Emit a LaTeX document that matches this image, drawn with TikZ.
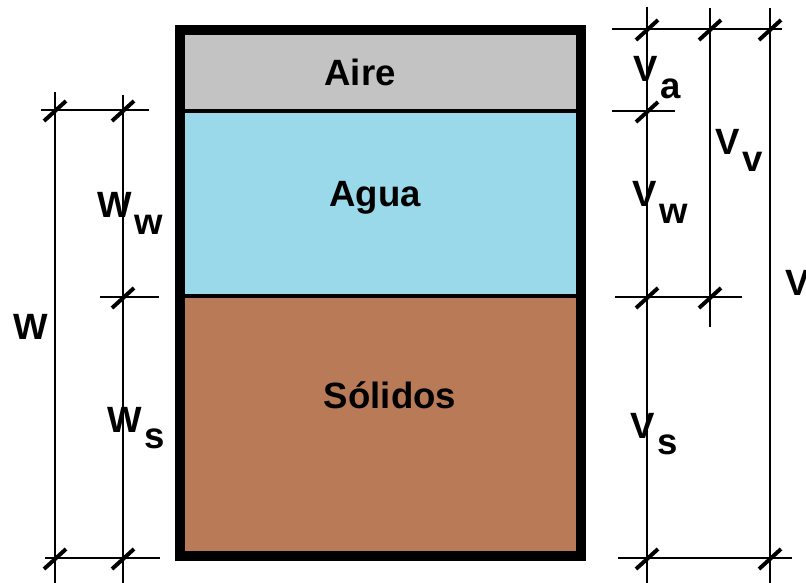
\documentclass[tikz,border=0pt]{standalone}
\usepackage{fontspec}
\setmainfont{Liberation Sans}

\definecolor{aire}{RGB}{195,195,195}
\definecolor{agua}{RGB}{153,217,234}
\definecolor{solido}{RGB}{185,122,87}

\newcommand{\idx}[1]{\kern2pt\raisebox{-12pt}{#1}}

\tikzset{
  fase/.style={font=\fontsize{26}{26}\bfseries\selectfont, inner sep=0pt},
  cota/.style={font=\fontsize{26}{26}\bfseries\selectfont, inner sep=0pt, anchor=base west},
  dim/.style={line width=1pt},
  slash/.pic={\draw[line width=2.8pt] (-11,11) -- (11,-9);}
}

\begin{document}
\begin{tikzpicture}[x=0.025cm, y=-0.025cm]
  \useasboundingbox (0,0) rectangle (806,583);

  % muestra
  \fill[aire] (180,30) rectangle (581,111);
  \fill[agua] (180,111) rectangle (581,296);
  \fill[solido] (180,296) rectangle (581,556);
  \draw[line width=3pt] (180,111) -- (581,111);
  \draw[line width=3pt] (180,296) -- (581,296);
  \draw[line width=7pt] (180,30) rectangle (581,556);

  \node[fase, anchor=base] (aire) at (360,86) {Aire};
  \node[fase, anchor=base] (agua) at (375,207) {Agua};
  \node[fase, anchor=base] (solidos) at (390,408) {Sólidos};

  % cotas de pesos
  \coordinate (w0) at (55,92);
  \coordinate (w1) at (55,583);
  \coordinate (ww0) at (123,95);
  \coordinate (ww1) at (123,583);
  \coordinate (e0) at (41,110);
  \coordinate (e1) at (149,110);
  \coordinate (e2) at (100,297);
  \coordinate (e3) at (159,297);
  \coordinate (e4) at (45,558);
  \coordinate (e5) at (160,558);
  \draw[dim] (w0) -- (w1);
  \draw[dim] (ww0) -- (ww1);
  \draw[dim] (e0) -- (e1);
  \draw[dim] (e2) -- (e3);
  \draw[dim] (e4) -- (e5);
  \pic at (55,110) {slash};
  \pic at (123,110) {slash};
  \pic at (123,297) {slash};
  \pic at (55,558) {slash};
  \pic at (123,558) {slash};

  \node[cota] (W) at (13,339) {W};
  \node[cota] (Ww) at (97,218) {W\idx{w}};
  \node[cota] (Ws) at (107,432) {W\idx{s}};

  % cotas de volumenes
  \coordinate (v0) at (647,7);
  \coordinate (v1) at (647,583);
  \coordinate (vv0) at (710,8);
  \coordinate (vv1) at (710,327);
  \coordinate (vt0) at (770,8);
  \coordinate (vt1) at (770,583);
  \coordinate (f0) at (612,29);
  \coordinate (f1) at (782,29);
  \coordinate (f2) at (612,111);
  \coordinate (f3) at (675,111);
  \coordinate (f4) at (615,297);
  \coordinate (f5) at (742,297);
  \coordinate (f6) at (618,558);
  \coordinate (f7) at (792,558);
  \draw[dim] (v0) -- (v1);
  \draw[dim] (vv0) -- (vv1);
  \draw[dim] (vt0) -- (vt1);
  \draw[dim] (f0) -- (f1);
  \draw[dim] (f2) -- (f3);
  \draw[dim] (f4) -- (f5);
  \draw[dim] (f6) -- (f7);
  \pic at (647,29) {slash};
  \pic at (710,29) {slash};
  \pic at (770,29) {slash};
  \pic at (647,111) {slash};
  \pic at (647,297) {slash};
  \pic at (710,297) {slash};
  \pic at (647,558) {slash};
  \pic at (770,558) {slash};

  \node[cota] (Va) at (633,82) {V\idx{a}};
  \node[cota] (Vw) at (632,207) {V\idx{w}};
  \node[cota] (Vv) at (715,155) {V\idx{v}};
  \node[cota] (Vs) at (630,438) {V\idx{s}};
  \node[cota] (V) at (785,295) {V};
\end{tikzpicture}
\end{document}
